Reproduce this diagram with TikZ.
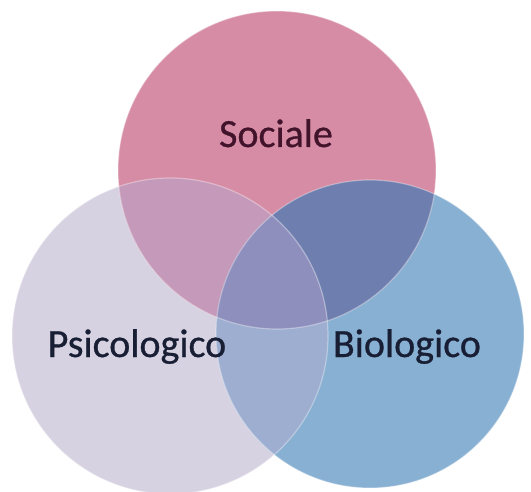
\documentclass[tikz,border=0pt]{standalone}
\usepackage{fontspec}
\setmainfont{Carlito}
\newfontface\termfont{Carlito}[FakeBold=0.7]
\usepackage{tikz}

% region colours
\definecolor{socfill}{RGB}{214,140,164}
\definecolor{psifill}{RGB}{215,210,226}
\definecolor{biofill}{RGB}{136,176,210}
\definecolor{socpsi}{RGB}{197,153,185}
\definecolor{socbio}{RGB}{109,126,175}
\definecolor{psibio}{RGB}{157,174,208}
\definecolor{allthree}{RGB}{143,143,189}
\definecolor{soctext}{RGB}{66,20,44}
\definecolor{bluetext}{RGB}{24,30,52}

\begin{document}
\begin{tikzpicture}[
    x=1pt, y=-1pt,
    termtext/.style={
        font=\termfont\fontsize{40}{44}\selectfont,
        anchor=base,
        inner sep=0pt
    },
    rim/.style={
        draw=white,
        draw opacity=0.35,
        line width=1.2pt
    }
]

\useasboundingbox (0,0) rectangle (531,492);
\fill[white] (0,0) rectangle (531,492);

% circle centres
\coordinate (soc) at (277,170);
\coordinate (psi) at (170,336);
\coordinate (bio) at (370,334);

% single circles
\fill[psifill] (psi) circle[radius=158pt];
\fill[biofill] (bio) circle[radius=154pt];
\fill[socfill] (soc) circle[radius=159pt];

% pairwise overlaps
\begin{scope}
    \clip (soc) circle[radius=159pt];
    \fill[socpsi] (psi) circle[radius=158pt];
    \fill[socbio] (bio) circle[radius=154pt];
\end{scope}
\begin{scope}
    \clip (psi) circle[radius=158pt];
    \fill[psibio] (bio) circle[radius=154pt];
\end{scope}

% middle region
\begin{scope}
    \clip (soc) circle[radius=159pt];
    \clip (psi) circle[radius=158pt];
    \fill[allthree] (bio) circle[radius=154pt];
\end{scope}

% soft rims
\draw[rim] (psi) circle[radius=158pt];
\draw[rim] (bio) circle[radius=154pt];
\draw[rim] (soc) circle[radius=159pt];

\node (sociale) [termtext, text=soctext] at (276,147) {Sociale};
\node (psicologico) [termtext, text=bluetext] at (137,357) {Psicologico};
\node (biologico) [termtext, text=bluetext] at (407,357) {Biologico};

\end{tikzpicture}
\end{document}
